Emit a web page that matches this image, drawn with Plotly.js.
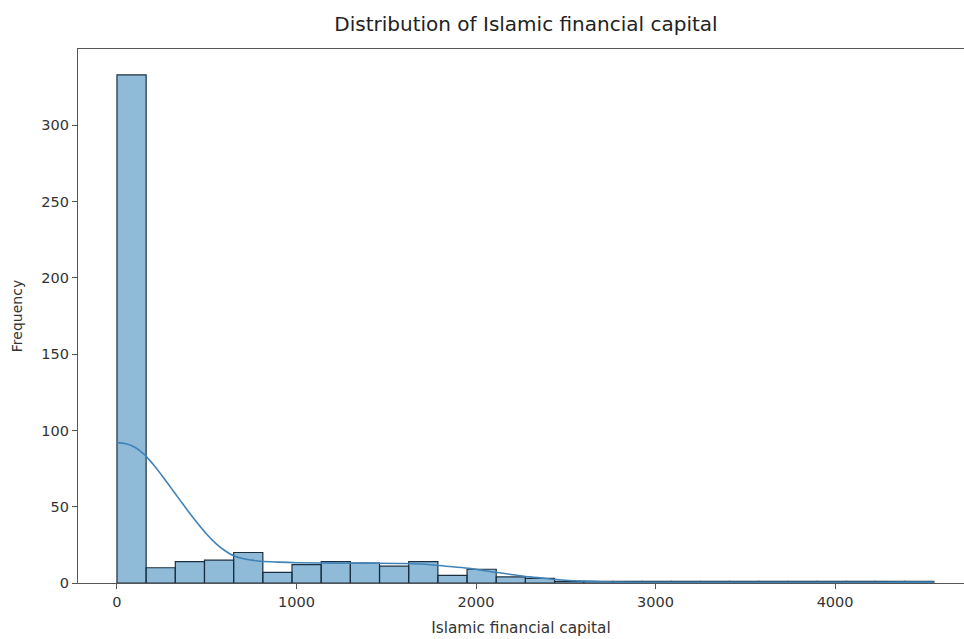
<!DOCTYPE html>
<html>
<head>
<meta charset="utf-8">
<script src="https://cdn.plot.ly/plotly-3.0.1.min.js"></script>
<style>html,body{margin:0;padding:0;background:#fff;}#chart{width:964px;height:639px;}</style>
</head>
<body>
<div id="chart"></div>
<script>
// Histogram data (28 equal-width bins from 0 to ~4550)
const binStart = 0;
const binWidth = 162.5;
const counts = [333, 10, 14, 15, 20, 7, 12, 14, 13, 11, 14, 5, 9, 4, 3,
                1, 1, 1, 1, 1, 1, 1, 1, 1, 1, 1, 1, 1];

// KDE curve
const kdeX = [0, 50, 100, 150, 200, 250, 300, 350, 400, 450, 500, 550, 600, 650, 700, 750, 800, 900, 1000, 1200, 1400, 1600, 1750, 1850, 1970, 2050, 2140, 2220, 2300, 2400, 2480, 2600, 2700, 2900, 3200, 3500, 3800, 4100, 4400, 4550];
const kdeY = [92, 91.3, 89, 84.5, 78, 70.5, 62.5, 54.5, 46.5, 39, 32, 26, 21.3, 17.8, 16, 15, 14.3, 13.7, 13.3, 13, 13, 12.8, 12, 10.8, 9.5, 8, 6.5, 5.2, 4, 2.8, 2, 1.2, 0.8, 0.5, 0.4, 0.4, 0.5, 0.5, 0.6, 0.6];

const yTicks = [0, 50, 100, 150, 200, 250, 300];
const xTicks = [0, 1000, 2000, 3000, 4000];

const centers = counts.map((c, i) => binStart + binWidth * (i + 0.5));

const bars = {
  type: 'bar',
  x: centers,
  y: counts,
  width: counts.map(() => binWidth),
  marker: {color: 'rgba(31,119,180,0.5)', line: {color: '#1c2f40', width: 1.2}},
  hoverinfo: 'x+y'
};
const kde = {
  type: 'scatter', mode: 'lines',
  x: kdeX, y: kdeY,
  line: {color: '#3f83b8', width: 1.6, shape: 'spline', smoothing: 1},
  hoverinfo: 'skip'
};

const font = 'DejaVu Sans, sans-serif';
const layout = {
  width: 964, height: 639,
  margin: {l: 78, r: 0, t: 49, b: 56},
  paper_bgcolor: '#fff', plot_bgcolor: '#fff',
  showlegend: false,
  bargap: 0,
  title: {text: 'Distribution of Islamic financial capital', font: {family: font, size: 20, color: '#222'},
          x: 0.5056, xref: 'paper', xanchor: 'center', y: 0.962, yref: 'container', yanchor: 'middle'},
  xaxis: {range: [-217, 4718], tickvals: xTicks, ticktext: xTicks.map(String),
          showgrid: false, zeroline: false, showline: true, linecolor: '#555', linewidth: 1.2,
          mirror: true, ticks: 'outside', ticklen: 5, tickcolor: '#555', tickwidth: 1,
          tickfont: {family: font, size: 14.5, color: '#333'},
          title: {text: 'Islamic financial capital', font: {family: font, size: 15.3, color: '#333'}, standoff: 13}},
  yaxis: {range: [0, 350], tickvals: yTicks, ticktext: yTicks.map(String),
          showgrid: false, zeroline: false, showline: true, linecolor: '#555', linewidth: 1.2,
          ticks: 'outside', ticklen: 5, tickcolor: '#555', tickwidth: 1,
          tickfont: {family: font, size: 14.5, color: '#333'},
          title: {text: 'Frequency', font: {family: font, size: 14, color: '#333'}, standoff: 15}}
};

Plotly.newPlot('chart', [bars, kde], layout, {displayModeBar: false, staticPlot: true});
</script>
</body>
</html>
